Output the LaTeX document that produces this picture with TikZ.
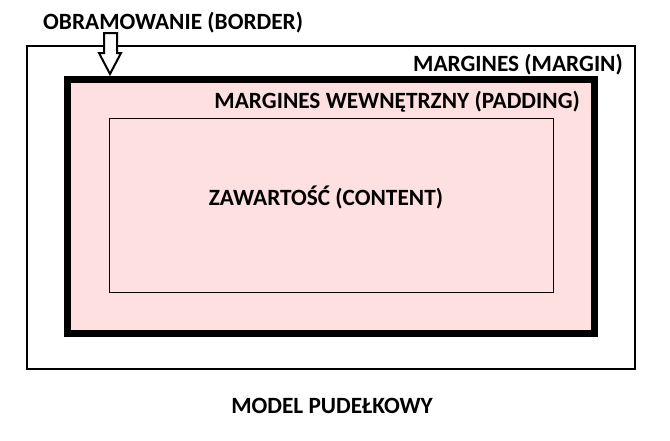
\documentclass[tikz,border=0pt]{standalone}
\usepackage{fontspec}
\setmainfont{Carlito}
\begin{document}
\begin{tikzpicture}
	[x=1pt, y=-1pt,
	 label/.style={font=\fontsize{23.3}{27}\selectfont\bfseries, inner sep=0pt},
	 marginbox/.style={draw, line width=1.5pt},
	 borderbox/.style={draw, line width=7pt, fill={rgb,255:red,255;green,224;blue,224}},
	 contentbox/.style={draw, line width=1pt}]
	\useasboundingbox (0,0) rectangle (670,440);
	\draw[marginbox] (27,46) rectangle (635,369);
	\draw[borderbox] (67.5,79.5) rectangle (594,333);
	\draw[contentbox] (109.5,118.5) rectangle (553.5,292);
	\node[label, anchor=base west] (border) at (43,29) {OBRAMOWANIE (BORDER)};
	\node[label, anchor=base east] (margin) at (623,71) {MARGINES (MARGIN)};
	\node[label, anchor=base east] (padding) at (580,108) {MARGINES WEWNĘTRZNY (PADDING)};
	\node[label] (content) at (326,197) {ZAWARTOŚĆ (CONTENT)};
	\node[label, anchor=base] (model) at (332,413) {MODEL PUDEŁKOWY};
	\draw[line width=2pt, fill=white, line join=miter]
		(104,33) -- (117,33) -- (117,53) -- (121,53) -- (110,74) -- (99,53) -- (104,53) -- cycle;
\end{tikzpicture}
\end{document}
